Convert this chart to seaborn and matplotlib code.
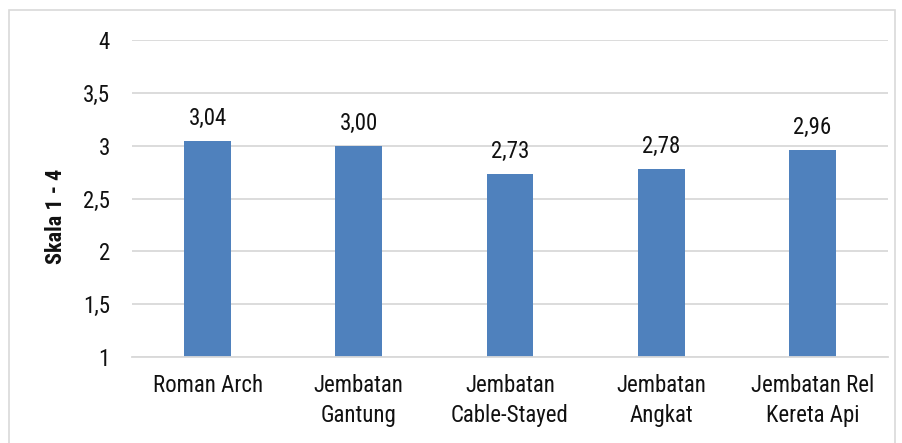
import matplotlib
matplotlib.use("Agg")
import matplotlib.pyplot as plt
import seaborn as sns
import pandas as pd
from matplotlib.patches import Rectangle

categories = ["Roman Arch", "Jembatan\nGantung", "Jembatan\nCable-Stayed",
              "Jembatan\nAngkat", "Jembatan Rel\nKereta Api"]
scores = [3.04, 3.00, 2.73, 2.78, 2.96]
value_labels = ["3,04", "3,00", "2,73", "2,78", "2,96"]
yticks = [1, 1.5, 2, 2.5, 3, 3.5, 4]
ytick_labels = ["1", "1,5", "2", "2,5", "3", "3,5", "4"]

sns.set_theme(style="white")
# narrow sans, close to Arial Narrow
plt.rcParams["font.family"] = ["Roboto Condensed", "Liberation Sans", "DejaVu Sans"]

df = pd.DataFrame({"kategori": categories, "skor": scores})
BASE = 1

fig = plt.figure(figsize=(9.03, 4.43), dpi=100)
ax = fig.add_axes([132 / 903, 1 - 357 / 443, (888 - 132) / 903, (357 - 40) / 443])

sns.barplot(data=df, x="kategori", y="skor", color="#4f81bd", width=0.31,
            saturation=1, ax=ax)
# bars start at the axis floor (1), not at zero
for p, v in zip(ax.patches, scores):
    p.set_y(BASE)
    p.set_height(v - BASE)
    p.set_edgecolor("none")

ax.set_ylim(1, 4)
ax.set_yticks(yticks)
ax.set_yticklabels(ytick_labels, fontsize=16.5, color="#111111")
ax.set_xticks(range(len(categories)))
ax.set_xticklabels(categories, fontsize=16.5, linespacing=1.4, color="#111111")
ax.set_xlabel("")
ax.set_ylabel("Skala 1 - 4", fontsize=16, fontweight="bold", color="#111111")
ax.yaxis.set_label_coords(-0.086, 0.445)
ax.yaxis.grid(True, color="#d9d9d9", linewidth=1.3)
ax.set_axisbelow(True)
for s in ["top", "right", "left"]:
    ax.spines[s].set_visible(False)
ax.spines["bottom"].set_color("#d9d9d9")
ax.spines["bottom"].set_linewidth(1.3)
ax.tick_params(axis="both", length=0)
ax.tick_params(axis="y", pad=16)
ax.tick_params(axis="x", pad=12)

for i, (v, lab) in enumerate(zip(scores, value_labels)):
    ax.annotate(lab, (i, v), xytext=(0, 11.5), textcoords="offset points",
                ha="center", va="baseline", fontsize=16.5, color="#111111")

fig.patches.append(Rectangle((9 / 903, -0.05), (895 - 9) / 903, 1 - 10 / 443 + 0.05,
                             transform=fig.transFigure, fill=False,
                             edgecolor="#d9d9d9", linewidth=1.2))

fig.savefig("out.png", dpi=100)
